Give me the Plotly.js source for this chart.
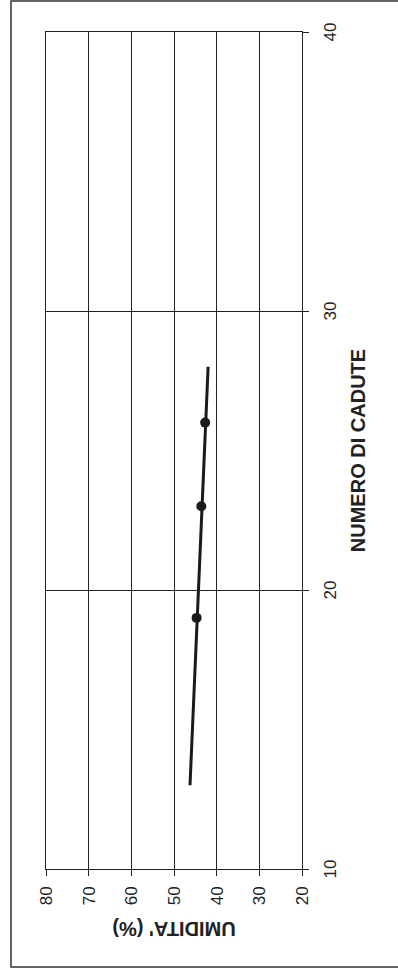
<!DOCTYPE html>
<html>
<head>
<meta charset="utf-8">
<script src="https://cdn.plot.ly/plotly-3.0.1.min.js"></script>
<style>
html, body { margin: 0; padding: 0; background: #fff; overflow: hidden; width: 398px; height: 973px; }
#chart { position: absolute; left: 0; top: 0; width: 973px; height: 398px;
  transform-origin: 0 0; transform: translateY(973px) rotate(-90deg); }
</style>
</head>
<body>
<div id="chart"></div>
<script>
// Measured points: number of blows vs moisture content
const cadute = [19, 23, 26];
const umidita = [44.7, 43.6, 42.7];
// Flow line (fitted) end points
const lineCadute = [13, 28];
const lineUmidita = [46.25, 42.0];
const xTicks = [10, 20, 30, 40];
const yTicks = [20, 30, 40, 50, 60, 70, 80];

const ink = '#222';
const font = 'Liberation Sans, Arial, sans-serif';

const traces = [
  { x: lineCadute, y: lineUmidita, mode: 'lines', line: { color: '#1a1a1a', width: 3 }, hoverinfo: 'skip' },
  { x: cadute, y: umidita, mode: 'markers', marker: { color: '#1a1a1a', size: 10 } }
];

const L = 104, R = 32, T = 46, B = 96, W = 973, H = 398;
const pw = W - L - R, ph = H - T - B;
const px = u => (u - L) / pw;
const py = v => (H - B - v) / ph;

const layout = {
  width: W, height: H,
  margin: { l: L, r: R, t: T, b: B, pad: 0 },
  paper_bgcolor: '#fff', plot_bgcolor: '#fff',
  showlegend: false,
  font: { family: font, color: ink, size: 16 },
  xaxis: {
    range: [10, 40], tickvals: xTicks, ticktext: xTicks.map(String),
    showgrid: true, gridcolor: ink, gridwidth: 1,
    showline: true, mirror: true, linecolor: ink, linewidth: 1,
    ticks: 'outside', ticklen: 6, tickcolor: ink, tickwidth: 1,
    ticklabelstandoff: 7, zeroline: false,
    tickfont: { family: font, size: 17, color: ink },
    title: { text: 'NUMERO DI CADUTE', standoff: 11, font: { family: font, size: 20, weight: 'bold', color: ink } }
  },
  yaxis: {
    range: [20, 80], tickvals: yTicks, ticktext: yTicks.map(String),
    showgrid: true, gridcolor: ink, gridwidth: 1,
    showline: true, mirror: true, linecolor: ink, linewidth: 1,
    ticks: 'outside', ticklen: 6, tickcolor: ink, tickwidth: 1,
    ticklabelstandoff: 7, zeroline: false,
    tickfont: { family: font, size: 17, color: ink },
    title: { text: "UMIDITA' (%)", standoff: 10, font: { family: font, size: 20, weight: 'bold', color: ink } }
  },
  shapes: [{
    type: 'rect', xref: 'paper', yref: 'paper',
    x0: px(6), x1: px(972), y0: py(405), y1: py(11),
    line: { color: '#333', width: 1.5 }, fillcolor: 'rgba(0,0,0,0)', layer: 'below'
  }]
};

Plotly.newPlot('chart', traces, layout, { staticPlot: true, displayModeBar: false });
</script>
</body>
</html>
